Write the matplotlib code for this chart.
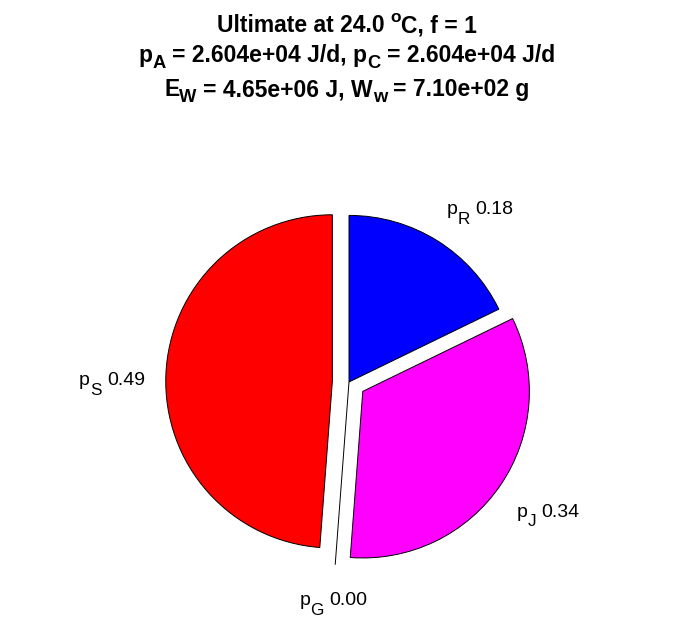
import numpy as np
import matplotlib
matplotlib.use("Agg")
import matplotlib.pyplot as plt
from matplotlib.transforms import Affine2D

plt.rcParams['font.family'] = ['Liberation Sans', 'DejaVu Sans']

# fractions of the ultimate power budget
names = ['R', 'J', 'G', 'S']
shares = [0.178, 0.334, 0.0, 0.488]
shown = [0.18, 0.34, 0.00, 0.49]
colors = ['#0000ff', '#ff00ff', '#00ff00', '#ff0000']
explode = [0.0, 0.1, 0.1, 0.1]

# title pieces: (text, size scale, baseline shift in em)
SUB, SUP = (0.8, -0.27), (0.75, 0.42)
title_lines = [
    [('Ultimate at 24.0 ', 1, 0), ('o', *SUP), ('C, f = 1', 1, 0)],
    [('p', 1, 0), ('A', *SUB), (' = 2.604e+04 J/d, p', 1, 0), ('C', *SUB),
     (' = 2.604e+04 J/d', 1, 0)],
    [('E', 1, 0), ('W', *SUB), (' = 4.65e+06 J, W', 1, 0), ('w', *SUB),
     (' = 7.10e+02 g', 1, 0)],
]
title_base_px = [32, 62, 96]

# label anchors: centre x, baseline y (in pie radii from the pie centre)
label_xy = [(0.786, 1.008), (1.194, -0.808), (-0.096, -1.339), (-1.423, -0.018)]

W, H = 696, 618
DPI = 100
cx, cy, R = 349, 382, 166.6  # pie centre and radius in pixels

fig = plt.figure(figsize=(W / DPI, H / DPI), dpi=DPI)
ax = fig.add_axes([0, 0, 1, 1])
rend = fig.canvas.get_renderer()


def text_width(s, fs, weight):
    t = fig.text(0, 0, s, fontsize=fs, fontweight=weight)
    w = t.get_window_extent(rend).width
    t.remove()
    return w


def rich_text(x, y, pieces, size, transform, weight='normal'):
    # lay out pieces one after another, centred on x, baseline at y
    items, pos = [], 0.0
    for s, scale, dy in pieces:
        fs = size * scale
        sp = text_width('x x', fs, weight) - text_width('xx', fs, weight)
        core = s.strip(' ')
        pos += (len(s) - len(s.lstrip(' '))) * sp
        items.append((core, fs, pos, dy * size * DPI / 72))
        pos += text_width(core, fs, weight)
        pos += (len(s) - len(s.rstrip(' '))) * sp
    x0 = -pos / 2
    for core, fs, px, dy in items:
        tr = transform + Affine2D().translate(x0 + px, dy)
        fig.text(x, y, core, transform=tr, fontsize=fs, fontweight=weight,
                 ha='left', va='baseline')


wedges, _ = ax.pie(shares, colors=colors, explode=explode, startangle=90,
                   counterclock=False, normalize=False,
                   wedgeprops=dict(edgecolor='black', linewidth=0.7))
# the empty slice is drawn from the centre out to the exploded rim
wedges[2].set_center((0, 0))
wedges[2].set_radius(1.1)

ax.set_aspect('auto')
ax.set_xlim(-cx / R, (W - cx) / R)
ax.set_ylim(-(H - cy) / R, cy / R)
ax.axis('off')

for n, v, (lx, ly) in zip(names, shown, label_xy):
    pieces = [('p', 1, 0), (n, 0.88, -0.5), (' %.2f' % v, 1, 0)]
    rich_text(lx, ly, pieces, 14, ax.transData)

for line, yb in zip(title_lines, title_base_px):
    rich_text(347 / W, 1 - yb / H, line, 16.5, fig.transFigure, weight='bold')

fig.savefig('out.png', dpi=DPI)
